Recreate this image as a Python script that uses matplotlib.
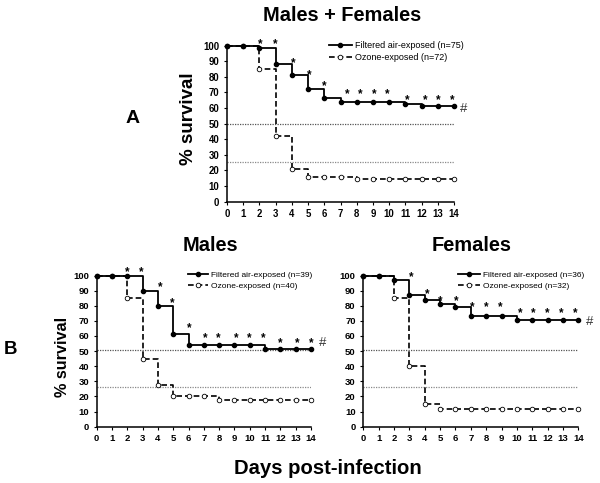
import matplotlib
matplotlib.use('Agg')
import matplotlib.pyplot as plt
from matplotlib.transforms import offset_copy

plt.rcParams['font.family'] = ['Liberation Sans', 'DejaVu Sans']

# ---------------- data ----------------
days = list(range(15))

a_filtered = [100, 100, 98.7, 88, 81.3, 72, 66.7, 64, 64, 64, 64, 62.7, 61.3, 61.3, 61.3]
a_ozone = [100, 100, 84.8, 42.4, 21, 15.6, 15.6, 15.6, 14.4, 14.4, 14.4, 14.4, 14.4, 14.4, 14.4]

m_filtered = [100, 100, 100, 89.7, 79.5, 61.5, 53.8, 53.8, 53.8, 53.8, 53.8, 51.3, 51.3, 51.3, 51.3]
m_ozone = [100, 100, 85, 45, 27.5, 20, 20, 20, 17.5, 17.5, 17.5, 17.5, 17.5, 17.5, 17.5]

f_filtered = [100, 100, 97.2, 86.8, 83.7, 81, 79, 73.5, 73.5, 73.5, 70.4, 70.4, 70.4, 70.4, 70.4]
f_ozone = [100, 100, 84.8, 40, 15, 11.5, 11.5, 11.5, 11.5, 11.5, 11.5, 11.5, 11.5, 11.5, 11.5]

a_labels = ['Filtered air-exposed (n=75)', 'Ozone-exposed (n=72)']
m_labels = ['Filtered air-exposed (n=39)', 'Ozone-exposed (n=40)']
f_labels = ['Filtered air-exposed (n=36)', 'Ozone-exposed (n=32)']

# reference lines (median / quartile survival)
a_ref = [49.5, 25.5]
m_ref = [51, 26]
f_ref = [51, 26]

# significance asterisks
a_star_x = [2.05, 2.97, 4.1, 5.1, 6.0, 7.4, 8.2, 9.1, 9.9, 11.1, 12.2, 13.0, 13.9]
a_star_y = [103, 103, 91.2, 83.3, 76, 71, 71, 71, 71, 67.2, 67.2, 67.2, 67.2]
m_star_x = [2.0, 2.94, 4.14, 4.95, 6.06, 7.06, 7.95, 9.1, 9.98, 10.9, 12.0, 13.1, 14.0]
m_star_y = [104.4, 104.4, 94.3, 83.9, 67.8, 61.1, 61.1, 61.1, 61.1, 61.1, 57.4, 57.4, 57.4]
f_star_x = [3.15, 4.15, 5.0, 6.03, 7.1, 8.0, 8.9, 10.2, 11.1, 12.0, 12.9, 13.8]
f_star_y = [100.9, 90, 85.6, 85.6, 81.7, 81.7, 81.7, 77.7, 77.7, 77.7, 77.7, 77.7]

# '#' marks (x, y)
a_hash = (14.6, 60.8)
m_hash = (14.78, 56.3)
f_hash = (14.76, 70.6)

yticks = list(range(0, 101, 10))

# ---------------- figure ----------------
fig = plt.figure(figsize=(6, 4.83), dpi=100)


def panel(rect, filt, ozo, labels, refs, sx, sy, hsh, tick_fs, leg_fs, leg_anchor, handlelen):
    ax = fig.add_axes(rect)
    ax.set_xlim(0, 14)
    ax.set_ylim(0, 100)
    for s in ['top', 'right']:
        ax.spines[s].set_visible(False)
    for s in ['left', 'bottom']:
        ax.spines[s].set_linewidth(1.1)
    ref_colors = ['#555555', '#8a8a8a']
    for r, c in zip(refs, ref_colors):
        ax.axhline(r, color=c, lw=0.9, ls=(0, (1, 1)), zorder=1)
    lo, = ax.step(days, ozo, where='post', color='black', lw=1.2,
                  dashes=(3.4, 1.8), marker='o', ms=3.3, mfc='white', mec='black',
                  mew=0.6, clip_on=False, zorder=3, label=labels[1])
    lf, = ax.step(days, filt, where='post', color='black', lw=1.3,
                  marker='o', ms=3.0, mfc='black', mec='black', clip_on=False,
                  zorder=4, label=labels[0])
    ax.set_xticks(days)
    ax.set_yticks(yticks)
    ax.tick_params(axis='both', direction='out', length=2.5, width=0.8,
                   labelsize=tick_fs, pad=3)
    for lbl in ax.get_xticklabels() + ax.get_yticklabels():
        lbl.set_fontweight('bold')
    fs_star = 8.5
    tr = offset_copy(ax.transData, fig=fig, y=-0.55 * fs_star, units='points')
    for x, y in zip(sx, sy):
        ax.text(x, y, '*', transform=tr, ha='center', va='baseline',
                fontsize=fs_star, fontweight='bold', color='black', clip_on=False)
    fs_h = 9.5
    trh = offset_copy(ax.transData, fig=fig, y=-0.36 * fs_h, units='points')
    ax.text(hsh[0], hsh[1], '#', transform=trh, ha='center', va='baseline',
            fontsize=fs_h, color='#333333', clip_on=False)
    ax.legend(handles=[lf, lo], loc='center left', bbox_to_anchor=leg_anchor,
              frameon=False, fontsize=leg_fs, borderpad=0, borderaxespad=0,
              handlelength=handlelen, handletextpad=0.35, labelspacing=0.35)
    return ax


axA = panel([0.3783, 0.5824, 0.3784, 0.3230], a_filtered, a_ozone, a_labels, a_ref,
            a_star_x, a_star_y, a_hash, 6.9, 6.5, (0.449, 0.963), 2.55)
axM = panel([0.1612, 0.1166, 0.3571, 0.3130], m_filtered, m_ozone, m_labels, m_ref,
            m_star_x, m_star_y, m_hash, 6.8, 6.0, (0.426, 0.967), 2.4)
axF = panel([0.6055, 0.1166, 0.3583, 0.3130], f_filtered, f_ozone, f_labels, f_ref,
            f_star_x, f_star_y, f_hash, 6.8, 6.0, (0.442, 0.967), 2.6)

# titles and labels
fig.text(0.5695, 0.9571, 'Males + Females', ha='center', va='baseline',
         fontsize=14.4, fontweight='bold')
fig.text(0.3508, 0.4810, 'Males', ha='center', va='baseline',
         fontsize=14.4, fontweight='bold')
fig.text(0.7855, 0.4810, 'Females', ha='center', va='baseline',
         fontsize=14.4, fontweight='bold')
fig.text(0.5462, 0.0186, 'Days post-infection', ha='center', va='baseline',
         fontsize=14.6, fontweight='bold')
fig.text(0.2217, 0.7453, 'A', ha='center', va='baseline',
         fontsize=14, fontweight='bold')
fig.text(0.018, 0.2677, 'B', ha='center', va='baseline',
         fontsize=13.4, fontweight='bold')
fig.text(0.3222, 0.7536, '% survival', rotation=90, rotation_mode='anchor',
         ha='center', va='baseline', fontsize=13.5, fontweight='bold')
fig.text(0.1117, 0.2615, '% survival', rotation=90, rotation_mode='anchor',
         ha='center', va='baseline', fontsize=11.7, fontweight='bold')

fig.savefig('out.png', dpi=100)
